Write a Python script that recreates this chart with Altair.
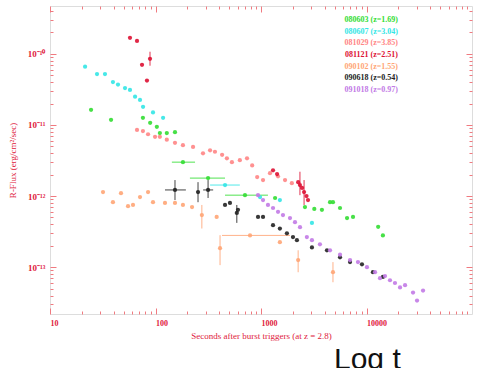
import altair as alt
import pandas as pd

names = ["080603 (z=1.69)", "080607 (z=3.04)", "081029 (z=3.85)", "081121 (z=2.51)",
         "090102 (z=1.55)", "090618 (z=0.54)", "091018 (z=0.97)"]
colors = ["#33dd33", "#33e6e6", "#ff8585", "#dd1133", "#ffa575", "#222222", "#c27ae6"]

t_080603 = [24.5, 37.9, 76, 89, 103, 110, 128, 153, 182, 315, 705, 1360, 2610, 3200, 3780, 4510, 4810, 5610, 6540, 7450, 12900, 14300]
f_080603 = [1.63e-11, 1.18e-11, 1.26e-11, 1.07e-11, 9.4e-12, 7.7e-12, 7.7e-12, 7.9e-12, 3.0e-12, 1.79e-12, 1.03e-12, 9.4e-13, 7.0e-13, 6.6e-13, 6.4e-13, 8.2e-13, 8.2e-13, 6.8e-13, 4.9e-13, 5.1e-13, 3.7e-13, 2.8e-13]

t_080607 = [21.5, 27.9, 33.2, 39.5, 44.1, 51.4, 57.3, 64, 71.3, 76.2, 94.7, 118, 456, 979, 1510, 3040]
f_080607 = [6.6e-11, 5.2e-11, 5.2e-11, 4.0e-11, 3.7e-11, 3.3e-11, 3.1e-11, 2.5e-11, 2.25e-11, 1.8e-11, 1.5e-11, 1.26e-11, 1.43e-12, 9.7e-13, 8.8e-13, 4.2e-13]

t_081029 = [66.8, 76, 85, 99, 110, 128, 153, 182, 227, 282, 329, 366, 428, 475, 530, 630, 737, 825, 920, 1045, 1217, 1450, 1690, 1960]
f_081029 = [8.5e-12, 8.2e-12, 7.4e-12, 6.8e-12, 6.8e-12, 6.2e-12, 5.6e-12, 5.2e-12, 4.9e-12, 4.0e-12, 4.4e-12, 4.2e-12, 3.8e-12, 3.4e-12, 3.0e-12, 3.2e-12, 3.4e-12, 2.7e-12, 1.85e-12, 1.68e-12, 2.1e-12, 1.9e-12, 1.68e-12, 1.52e-12]

t_081121 = [57.3, 66.8, 74.5, 88.7, 83, 1300, 1420, 2250, 2340, 2450, 2560, 2700, 2790]
f_081121 = [1.68e-10, 1.52e-10, 7.0e-11, 8.5e-11, 4.2e-11, 2.3e-12, 2.04e-12, 1.57e-12, 1.43e-12, 1.3e-12, 1.14e-12, 1.0e-12, 8.8e-13]

t_090102 = [31.8, 39.5, 47.1, 54.9, 61.2, 71.3, 85, 94.7, 123, 153, 182, 222, 275, 380, 409, 787, 1510, 2250, 4810]
f_090102 = [1.14e-12, 8.2e-13, 1.10e-12, 7.2e-13, 7.5e-13, 9.7e-13, 1.14e-12, 8.2e-13, 8.0e-13, 8.0e-13, 7.5e-13, 7.0e-13, 5.4e-13, 5.1e-13, 1.85e-13, 2.8e-13, 2.25e-13, 1.26e-13, 8.5e-14]

t_090618 = [153, 253, 315, 456, 508, 590, 605, 937, 1045, 1300, 1510, 1760, 2010, 2190, 3040, 4220, 5610, 6980, 9060, 11500, 14300]
f_090618 = [1.22e-12, 1.14e-12, 1.22e-12, 7.5e-13, 8.0e-13, 5.8e-13, 6.4e-13, 5.1e-13, 5.1e-13, 3.9e-13, 3.5e-13, 3.0e-13, 2.65e-13, 2.4e-13, 1.9e-13, 1.73e-13, 1.38e-13, 1.18e-13, 1.1e-13, 8.5e-14, 7.3e-14]

t_091018 = [937, 1045, 1164, 1300, 1450, 1615, 1883, 2100, 2343, 2720, 3040, 3620, 4510, 5610, 6980, 8300, 10100, 12050, 13430, 14970, 16700, 18620, 20790, 23200, 27610, 30130, 34350]
f_091018 = [1.03e-12, 8.8e-13, 7.5e-13, 6.8e-13, 6.0e-13, 5.4e-13, 4.9e-13, 4.3e-13, 3.66e-13, 2.65e-13, 2.4e-13, 2.1e-13, 1.73e-13, 1.5e-13, 1.26e-13, 1.18e-13, 1.0e-13, 8.5e-14, 7.0e-14, 7.5e-14, 6.56e-14, 6.0e-14, 5.2e-14, 5.6e-14, 4.4e-14, 3.4e-14, 4.7e-14]

# error bars
err_grb = [names[5], names[5], names[5], names[0], names[0], names[0], names[1], names[4],
           names[4], names[4], names[4], names[3], names[3], names[3], names[5], names[4]]
err_t = [153, 253, 315, 182, 315, 705, 456, 787, 409, 2250, 4810, 88.7, 2340, 2560, 590, 275]
err_f = [1.22e-12, 1.14e-12, 1.22e-12, 3.0e-12, 1.79e-12, 1.03e-12, 1.43e-12, 2.8e-13, 1.85e-13, 1.26e-13, 8.5e-14, 8.5e-11, 1.43e-12, 1.14e-12, 5.8e-13, 5.4e-13]
err_tlo = [123, 253, 283, 143, 212, 456, 329, 427, 409, 2250, 4810, 88.7, 2340, 2560, 590, 275]
err_thi = [194, 253, 352, 237, 456, 1164, 630, 1883, 409, 2250, 4810, 88.7, 2340, 2560, 590, 275]
err_flo = [8.8e-13, 8.2e-13, 9.4e-13, 3.0e-12, 1.79e-12, 1.03e-12, 1.43e-12, 2.8e-13, 1.07e-13, 8.5e-14, 6.15e-14, 6.8e-11, 1.03e-12, 7.5e-13, 4.2e-13, 3.5e-13]
err_fhi = [1.68e-12, 1.57e-12, 1.68e-12, 3.0e-12, 1.79e-12, 1.03e-12, 1.43e-12, 2.8e-13, 2.82e-13, 1.73e-13, 1.18e-13, 1.07e-10, 2.2e-12, 1.68e-12, 7.5e-13, 7.5e-13]

x_major = [10, 100, 1000, 10000]
y_major = [1e-13, 1e-12, 1e-11, 1e-10]

series_t = [t_080603, t_080607, t_081029, t_081121, t_090102, t_090618, t_091018]
series_f = [f_080603, f_080607, f_081029, f_081121, f_090102, f_090618, f_091018]
rows = []
for nm, ts, fs in zip(names, series_t, series_f):
    for t, f in zip(ts, fs):
        rows.append({"grb": nm, "t": t, "f": f})
pts = pd.DataFrame(rows)
err = pd.DataFrame({"grb": err_grb, "t": err_t, "f": err_f, "tlo": err_tlo,
                    "thi": err_thi, "flo": err_flo, "fhi": err_fhi})
leg = pd.DataFrame({"grb": names, "idx": list(range(len(names)))})

XDOM = [10, 100000]
YDOM = [2.2e-14, 4.7e-10]
minor_x = [m * 10 ** e for e in range(1, 5) for m in range(2, 10)]
minor_y = [m * 10.0 ** e for e in range(-14, -9) for m in range(2, 10)
           if YDOM[0] <= m * 10.0 ** e <= YDOM[1]]

RED = "#e0203c"
FRAME = "#f07a80"
SERIF = "Liberation Serif"

def xs():
    return alt.Scale(type="log", domain=XDOM, nice=False)

def ys():
    return alt.Scale(type="log", domain=YDOM, nice=False)

cscale = alt.Scale(domain=names, range=colors)

def tick_axis(orient, values, size):
    return alt.Axis(orient=orient, values=values, tickSize=size, offset=-size,
                    tickColor=FRAME, domain=False, grid=False, labels=False, title=None)

ylab = ("datum.value > 5e-11 ? '10⁻¹⁰' : datum.value > 5e-12 ? '10⁻¹¹' : "
        "datum.value > 5e-13 ? '10⁻¹²' : '10⁻¹³'")

x_main_axis = alt.Axis(orient="bottom", values=x_major, format="d", tickSize=6, offset=-6,
                       tickColor=FRAME, domain=False, grid=False, labelColor=RED,
                       labelFont=SERIF, labelFontSize=8, labelFontWeight="bold",
                       labelAlign="left", labelFlush=False, labelOverlap=False,
                       labelPadding=5, title="Seconds after burst triggers (at z = 2.8)",
                       titleColor=RED, titleFont=SERIF, titleFontSize=9,
                       titleFontWeight="normal", titlePadding=4)
y_main_axis = alt.Axis(orient="left", values=y_major, labelExpr=ylab, tickSize=6, offset=-6,
                       tickColor=FRAME, domain=False, grid=False, labelColor=RED,
                       labelFont=SERIF, labelFontSize=9, labelFontWeight="bold",
                       labelFlush=False, labelOverlap=False, labelPadding=5,
                       title="R-Flux (erg/cm²/sec)", titleColor=RED, titleFont=SERIF,
                       titleFontSize=9, titleFontWeight="normal", titlePadding=10)

points = alt.Chart(pts).mark_circle(size=18, opacity=0.9).encode(
    x=alt.X("t:Q", scale=xs(), axis=x_main_axis),
    y=alt.Y("f:Q", scale=ys(), axis=y_main_axis),
    color=alt.Color("grb:N", scale=cscale, legend=None),
)

hbars = alt.Chart(err).mark_rule(strokeWidth=1, opacity=0.85).encode(
    x=alt.X("tlo:Q", scale=xs(), axis=tick_axis("bottom", minor_x, 3)),
    x2="thi:Q",
    y=alt.Y("f:Q", scale=ys(), axis=tick_axis("left", minor_y, 3)),
    color=alt.Color("grb:N", scale=cscale, legend=None),
)

vbars = alt.Chart(err).mark_rule(strokeWidth=1, opacity=0.85).encode(
    x=alt.X("t:Q", scale=xs(), axis=tick_axis("top", x_major, 6)),
    y=alt.Y("flo:Q", scale=ys(), axis=tick_axis("right", y_major, 6)),
    y2="fhi:Q",
    color=alt.Color("grb:N", scale=cscale, legend=None),
)

ghost = alt.Chart(pts).mark_circle(size=1, opacity=0).encode(
    x=alt.X("t:Q", scale=xs(), axis=tick_axis("top", minor_x, 3)),
    y=alt.Y("f:Q", scale=ys(), axis=tick_axis("right", minor_y, 3)),
)

legend = alt.Chart(leg).mark_text(align="right", baseline="middle", font=SERIF,
                                  fontSize=8, fontWeight="bold").encode(
    x=alt.value(348),
    y=alt.Y("idx:Q", scale=alt.Scale(domain=[0, 6], range=[14, 84]), axis=None),
    text="grb:N",
    color=alt.Color("grb:N", scale=cscale, legend=None),
)

logt = alt.Chart(pd.DataFrame({"label": ["Log t"]})).mark_text(
    align="left", baseline="alphabetic", font="Liberation Sans", fontSize=30, color="#111111"
).encode(x=alt.value(284), y=alt.value(363), text="label:N")

chart = alt.layer(hbars, vbars, ghost, points, legend, logt).resolve_scale(
    y="independent"
).resolve_axis(x="independent", y="independent").properties(
    width=422, height=308,
    autosize=alt.AutoSizeParams(type="none"),
    padding={"left": 50, "top": 6, "right": 9, "bottom": 54},
).configure_view(stroke=FRAME, strokeWidth=1.2).configure(background="white")

chart.save("out.html", embed_options={"renderer": "svg", "actions": False})
